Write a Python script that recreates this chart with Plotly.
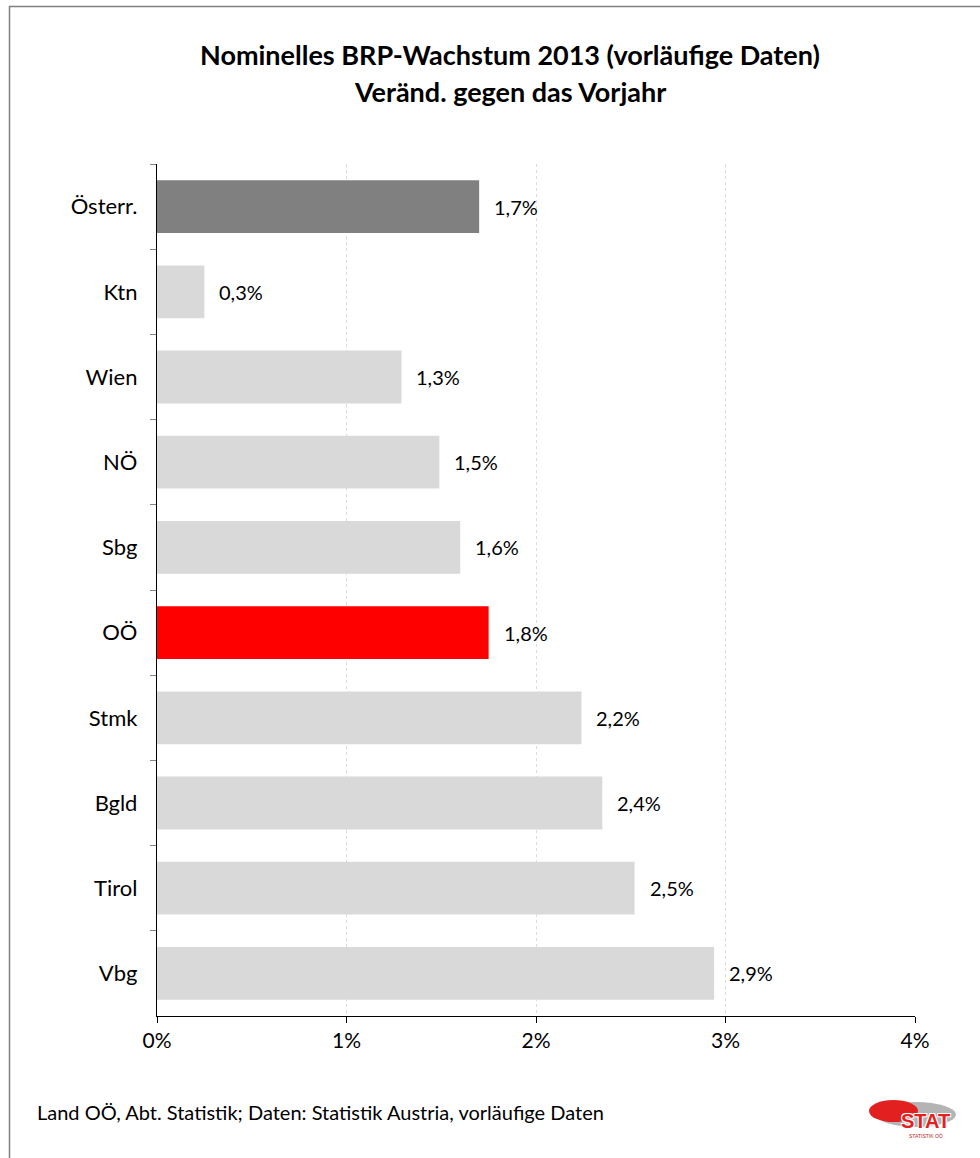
import plotly.graph_objects as go

categories = ["Österr.", "Ktn", "Wien", "NÖ", "Sbg", "OÖ", "Stmk", "Bgld", "Tirol", "Vbg"]
values = [1.70, 0.25, 1.29, 1.49, 1.60, 1.75, 2.24, 2.35, 2.52, 2.94]
value_labels = ["1,7%", "0,3%", "1,3%", "1,5%", "1,6%", "1,8%", "2,2%", "2,4%", "2,5%", "2,9%"]
bar_colors = ["#808080", "#d9d9d9", "#d9d9d9", "#d9d9d9", "#d9d9d9", "#ff0000",
              "#d9d9d9", "#d9d9d9", "#d9d9d9", "#d9d9d9"]
x_tickvals = [0, 1, 2, 3, 4]
x_ticktext = ["0%", "1%", "2%", "3%", "4%"]

FONT = "Lato, 'Open Sans', sans-serif"
W, H = 980, 1158
ML, MR, MT, MB = 157, 65, 164, 142
PW, PH = W - ML - MR, H - MT - MB

def px(x):
    return (x - ML) / PW

def py(y):
    return (H - MB - y) / PH

fig = go.Figure()
fig.add_trace(go.Bar(
    y=categories, x=values, orientation="h",
    marker=dict(color=bar_colors, line=dict(width=0)),
    width=0.62, hoverinfo="skip",
))

for c, v, t in zip(categories, values, value_labels):
    fig.add_annotation(x=v, y=c, text=t, showarrow=False, xanchor="left",
                       xshift=13, font=dict(size=20, color="#000000", family=FONT))

# title
fig.add_annotation(xref="paper", yref="paper", x=px(510), y=py(55),
                   text="<b>Nominelles BRP-Wachstum 2013 (vorläufige Daten)</b>",
                   showarrow=False, xanchor="center", yanchor="middle",
                   font=dict(size=27, color="#000000", family=FONT))
fig.add_annotation(xref="paper", yref="paper", x=px(510), y=py(92),
                   text="<b>Veränd. gegen das Vorjahr</b>",
                   showarrow=False, xanchor="center", yanchor="middle",
                   font=dict(size=27, color="#000000", family=FONT))
# footnote
fig.add_annotation(xref="paper", yref="paper", x=px(35), y=py(1112),
                   text="Land OÖ, Abt. Statistik; Daten: Statistik Austria, vorläufige Daten",
                   showarrow=False, xanchor="left", yanchor="middle",
                   font=dict(size=20, color="#000000", family=FONT))

# border
fig.add_shape(type="rect", xref="paper", yref="paper",
              x0=px(9.5), x1=px(985), y0=py(6.5), y1=py(1165),
              line=dict(color="#808080", width=1.5), fillcolor="rgba(0,0,0,0)", layer="below")

# logo
fig.add_shape(type="circle", xref="paper", yref="paper",
              x0=px(876), x1=px(956), y0=py(1102), y1=py(1127),
              line=dict(width=0), fillcolor="#b4b4b4")
fig.add_shape(type="circle", xref="paper", yref="paper",
              x0=px(869), x1=px(918), y0=py(1100), y1=py(1122),
              line=dict(width=0), fillcolor="#e32020")
fig.add_annotation(xref="paper", yref="paper", x=px(925), y=py(1121),
                   text="<b>STAT</b>", showarrow=False, xanchor="center", yanchor="middle",
                   font=dict(size=20, color="#e32020", family="'Liberation Sans', Arial, sans-serif",
                             shadow="-1px -1px 0 #fff, 1px 1px 0 #fff, 1px -1px 0 #fff, -1px 1px 0 #fff"))
fig.add_annotation(xref="paper", yref="paper", x=px(926), y=py(1136),
                   text="STATISTIK OÖ", showarrow=False, xanchor="center", yanchor="middle",
                   font=dict(size=5, color="#c02020", family="'Liberation Sans', Arial, sans-serif"))

fig.update_layout(
    width=W, height=H,
    margin=dict(l=ML, r=MR, t=MT, b=MB),
    paper_bgcolor="white", plot_bgcolor="white",
    showlegend=False,
    font=dict(family=FONT, color="#000000"),
    xaxis=dict(range=[0, 4], tickvals=x_tickvals, ticktext=x_ticktext,
               showgrid=True, gridcolor="#dcdcdc", griddash="dot", gridwidth=1,
               showline=True, linecolor="#000000", linewidth=1.3,
               ticks="outside", ticklen=6, tickcolor="#000000",
               tickfont=dict(size=21, family=FONT), zeroline=False,
               fixedrange=True),
    yaxis=dict(categoryorder="array", categoryarray=categories, autorange="reversed",
               showline=True, linecolor="#000000", linewidth=1.3,
               ticks="outside", tickson="boundaries", ticklen=6, tickcolor="#868686",
               ticklabelstandoff=14,
               tickfont=dict(size=22, family=FONT), showgrid=False, zeroline=False,
               fixedrange=True),
)

fig.write_html("out.html")
